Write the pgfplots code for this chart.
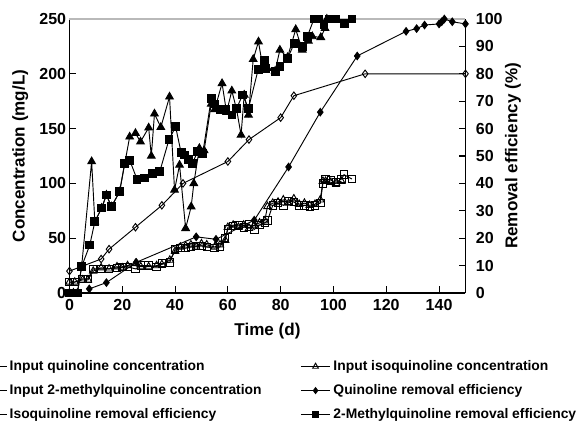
\documentclass[border=0pt]{standalone}
\usepackage{fontspec}
\setmainfont{Liberation Sans}
\usepackage{pgfplots}
\pgfplotsset{compat=1.18}
\begin{document}
\begin{tikzpicture}[font=\bfseries]
\pgfplotsset{
  common/.style={width=297pt,height=205.5pt,scale only axis,
    xmin=0,xmax=150,
    /pgf/number format/assume math mode=true,
    tick align=inside,
    tick style={line width=0.8pt,black},
    major tick length=5pt,
    ticklabel style={font=\bfseries\fontsize{12}{14}\selectfont},
    label style={font=\bfseries\fontsize{12.8}{15}\selectfont},
    axis line style={line width=0.8pt},
  },
  line/.style={black,line width=0.7pt},
}
\begin{axis}[common,
  ymin=0,ymax=250,
  axis y line*=left, axis x line*=bottom,
  xtick={0,20,...,140}, ytick={0,50,...,250},
  xticklabel style={yshift=-1pt},
  xlabel={Time (d)},
  xlabel style={at={(axis description cs:0.5,0)},anchor=north,yshift=-19pt},
  ylabel={Concentration (mg/L)},
  ylabel style={yshift=1.5pt},
  yticklabel style={xshift=1pt},
]
\coordinate (O) at (rel axis cs:0,0);
% Input quinoline concentration
\addplot[line,mark=diamond,mark size=2.8pt,mark options={fill=white}] coordinates {
(0,20)(12,31)(15,40)(25,60)(35,80)(43,100)(60,120)(68,140)(80,160)(85,180)(112,200)(150,200)};
% Input isoquinoline concentration
\addplot[line,mark=triangle,mark size=3.2pt,mark options={fill=white}] coordinates {
(0,10)(2,10)(5,12)(7,12)(9,20)(12,23)(15,22)(18,24)(20,23)(22,25)(25,27)(27,24)(30,24)(33,25)(35,26)(38,30)(40,38)(42,42)(44,43)(46,44)(48,42)(50,45)(52,44)(55,42)(57,44)(59,48)(60,60)(62,62)(64,60)(66,62)(68,59)(70,62)(72,64)(74,66)(75,79)(77,82)(79,83)(81,85)(83,82)(85,86)(87,81)(89,82)(91,80)(93,81)(95,85)(96,102)(97,102)(99,101)(101,100)(103,102)};
% Input 2-methylquinoline concentration
\addplot[line,mark=square,mark size=2.8pt,mark options={fill=white}] coordinates {
(0,10)(2,10)(5,13)(7,13)(9,22)(12,22)(15,22)(18,23)(20,24)(22,24)(25,22)(27,25)(30,25)(33,24)(35,27)(38,28)(40,40)(42,41)(44,41)(46,42)(48,43)(50,43)(52,42)(55,41)(57,42)(59,50)(60,58)(62,61)(64,62)(66,60)(68,63)(70,58)(72,62)(74,64)(75,66)(77,80)(79,82)(81,80)(83,84)(85,83)(87,80)(89,80)(91,79)(93,80)(95,82)(96,100)(97,104)(99,103)(101,101)(103,104)(104,108)(107,104)};
\end{axis}
\begin{axis}[common,
  ymin=0,ymax=100,
  axis y line*=right, axis x line*=top,
  xtick=\empty, ytick={0,10,...,100},
  x axis line style={gray!55},
  ylabel={Removal efficiency (\%)},
  ylabel style={yshift=5pt},
  yticklabel style={xshift=4.3pt},
  legend columns=2,
  legend cell align=left,
  legend style={draw=none,fill=none,at={(rel axis cs:-0.2455,-0.226)},anchor=north west,
    font=\bfseries\fontsize{10.4}{12}\selectfont,
    row sep=5pt,
    /tikz/every even column/.append style={column sep=27pt}},
  legend image code/.code={\draw[mark repeat=2,mark phase=2] plot coordinates {(0cm,0cm)(0.39cm,0cm)(0.78cm,0cm)};},
]
\addlegendimage{line,mark=diamond,mark size=2.2pt,mark options={fill=white}}
\addlegendentry{Input quinoline concentration}
\addlegendimage{line,mark=triangle,mark size=2.5pt,mark options={fill=white}}
\addlegendentry{Input isoquinoline concentration}
\addlegendimage{line,mark=square,mark size=2.2pt,mark options={fill=white}}
\addlegendentry{Input 2-methylquinoline concentration}
\addlegendimage{line,mark=diamond*,mark size=2.2pt}
\addlegendentry{Quinoline removal efficiency}
\addlegendimage{line,mark=triangle*,mark size=2.5pt}
\addlegendentry{Isoquinoline removal efficiency}
\addlegendimage{line,mark=square*,mark size=2.2pt}
\addlegendentry{2-Methylquinoline removal efficiency}
% Quinoline removal efficiency
\addplot[line,mark=diamond*,mark size=2.8pt,forget plot] coordinates {
(7.5,1.5)(14,3.8)(25.3,11.2)(48,20.5)(55.5,19.6)(70,26.6)(83,46)(95,66)(109,86.5)(127.5,95.5)(131.5,96.5)(134.5,97.8)(140,98.2)(141,99)(142,100)(145,99)(150,98.2)};
% Isoquinoline removal efficiency
\addplot[line,mark=triangle*,mark size=3.3pt,forget plot] coordinates {
(0,0)(1.5,0)(3,0)(4.6,9.6)(8.4,48)(9.6,26)(12.2,31)(14,35.8)(15.9,31.5)(19,37)(20.9,47)(22.8,57)(25,58.3)(26.9,55.2)(30,60.3)(31,50)(32.2,65.4)(34.6,60.5)(37.9,71.6)(39.8,37.6)(41.7,46.7)(44,23.6)(46.1,31.5)(47.1,40)(49.2,52.8)(51,52)(53.7,69)(55,67)(57.8,76.5)(59.5,66)(61.5,73.8)(63.3,67)(65,57.7)(66.2,72.3)(67.8,65)(69.6,85.3)(71.6,91.7)(73.4,81.4)(75,82)(77.9,81)(79.7,88.7)(82.6,86)(85.7,96.2)(88.2,88.7)(90.5,92)(92,93.6)(95.2,93.3)(96.8,96.6)(97.5,100)};
% 2-Methylquinoline removal efficiency
\addplot[line,mark=square*,mark size=2.9pt,forget plot] coordinates {
(0,0)(1.5,0)(3,0)(4.6,9.6)(7.7,17.5)(9.6,26)(12.2,31)(14,35.8)(15.9,31.5)(19,37)(20.9,47.3)(22.8,48.5)(25.6,41.5)(28.5,42)(31.4,43.7)(34.2,44.3)(37.7,56)(40.2,60.7)(42.3,51.2)(43.6,50.4)(45.2,48.8)(46.5,47.3)(48.6,51.6)(50.5,51)(53.7,71)(55,69)(57,67)(59.3,67)(61.6,65)(63.3,67.4)(65.6,72.3)(67.8,67.4)(71.5,81.6)(73.8,85)(74.4,82)(77.9,80.8)(79.7,82.8)(82.6,85.6)(85.1,91)(88.2,90)(90.1,93.6)(92.6,100)(94.5,100)(96.4,98)(98.3,100)(100.8,100)(104.3,98.5)(107,100)};
\end{axis}
\pgfresetboundingbox
\path[use as bounding box] ([shift={(-52.1pt,-96.75pt)}]O) rectangle ([shift={(382.9pt,219.75pt)}]O);
\end{tikzpicture}
\end{document}
